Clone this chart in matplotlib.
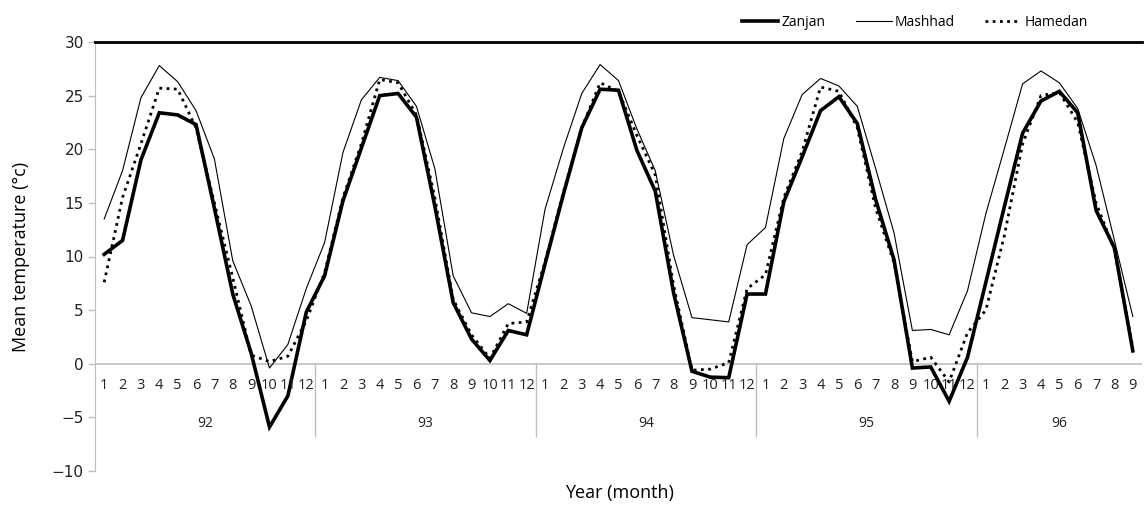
import matplotlib
matplotlib.use("Agg")
import matplotlib.pyplot as plt
import numpy as np

years = ["92", "93", "94", "95", "96"]
months_per_year = [12, 12, 12, 12, 9]
month_labels = [str(m) for n in months_per_year for m in range(1, n + 1)]

zanjan = [10.2, 11.5, 19.0, 23.4, 23.2, 22.3, 14.5, 6.5, 1.0, -5.9, -3.0, 4.8,
          8.2, 15.2, 20.1, 25.0, 25.2, 23.0, 14.7, 5.7, 2.3, 0.3, 3.1, 2.7,
          9.3, 15.8, 22.0, 25.6, 25.5, 19.9, 16.1, 6.6, -0.7, -1.25, -1.3, 6.5,
          6.5, 15.1, 19.3, 23.6, 24.9, 22.4, 15.3, 9.7, -0.4, -0.3, -3.5, 0.6,
          7.6, 14.6, 21.5, 24.5, 25.4, 23.4, 14.3, 10.8, 1.2]
mashhad = [13.5, 18.0, 24.8, 27.8, 26.3, 23.6, 19.1, 9.6, 5.4, -0.4, 1.8, 7.0,
           11.3, 19.7, 24.6, 26.7, 26.4, 24.0, 18.2, 8.2, 4.75, 4.4, 5.6, 4.7,
           14.4, 20.1, 25.2, 27.9, 26.4, 21.9, 18.0, 10.1, 4.3, 4.1, 3.9, 11.1,
           12.7, 21.0, 25.1, 26.6, 25.9, 24.0, 18.2, 12.2, 3.1, 3.2, 2.7, 6.8,
           14.0, 20.0, 26.1, 27.3, 26.2, 23.8, 18.5, 11.5, 4.4]
hamedan = [7.6, 15.5, 20.5, 25.7, 25.6, 22.0, 15.0, 8.0, 0.8, 0.2, 0.7, 4.0,
           8.5, 15.5, 20.5, 26.5, 26.2, 23.2, 15.5, 6.0, 2.7, 0.5, 3.75, 3.9,
           9.5, 16.0, 22.0, 26.2, 25.4, 21.3, 17.6, 7.3, -0.6, -0.5, 0.1, 7.0,
           8.3, 15.5, 19.8, 25.8, 25.4, 22.0, 14.5, 9.4, 0.2, 0.6, -1.7, 2.9,
           5.0, 11.9, 20.5, 25.0, 25.3, 22.5, 15.0, 10.6, 1.5]

W, H = 1145, 509
fig = plt.figure(figsize=(W / 100, H / 100), dpi=100)
ax = fig.add_axes([95 / W, 38 / H, 1047 / W, 429 / H])

x = np.arange(len(month_labels))
ax.plot(x, zanjan, color="black", lw=2.6, label="Zanjan", solid_joinstyle="miter")
ax.plot(x, mashhad, color="black", lw=0.8, label="Mashhad")
ax.plot(x, hamedan, color="black", lw=2.0, linestyle=(0, (1, 1.6)), label="Hamedan")

ax.set_xlim(-0.5, len(month_labels) - 0.5)
ax.set_ylim(-10, 30)
ax.set_yticks(np.arange(-10, 31, 5))
ax.set_yticklabels([f"{v}".replace("-", "\u2212") for v in range(-10, 31, 5)],
                   fontsize=11, color="#222222")
ax.tick_params(axis="y", direction="out", length=5, color="#bfbfbf", width=1, pad=3)
ax.set_xticks([])

for s in ["bottom", "right"]:
    ax.spines[s].set_visible(False)
ax.spines["left"].set_color("#bfbfbf")
ax.spines["top"].set_color("black")
ax.spines["top"].set_linewidth(2)

ax.axhline(0, color="#bfbfbf", lw=1.2, zorder=0)

grey = "#bfbfbf"
cat_font = "Open Sans"
for i, lab in enumerate(month_labels):
    ax.text(i, -2.0, lab, ha="center", va="center", fontsize=10.5,
            family=cat_font, color="#222222")

start = 0
bounds = []
for yr, n in zip(years, months_per_year):
    mid = start + (n - 1) / 2
    ax.text(mid, -5.6, yr, ha="center", va="center", fontsize=10,
            family=cat_font, color="#222222")
    start += n
    if start < len(month_labels):
        bounds.append(start - 0.5)
ax.vlines(bounds, -6.8, 0, color=grey, lw=1)

ax.set_ylabel("Mean temperature (\u00b0c)", fontsize=13, family=cat_font, labelpad=16)
fig.text((95 + 1144) / 2 / W, 1 - 493 / H, "Year (month)", ha="center", va="center",
         fontsize=13, family=cat_font)

fig.legend(loc="upper right", bbox_to_anchor=(1100 / W, 1 - 2 / H), ncol=3, frameon=False,
           prop={"family": cat_font, "size": 10},
           handlelength=2.6, handletextpad=0.2, columnspacing=2.2)

fig.savefig("out.png", dpi=100)
